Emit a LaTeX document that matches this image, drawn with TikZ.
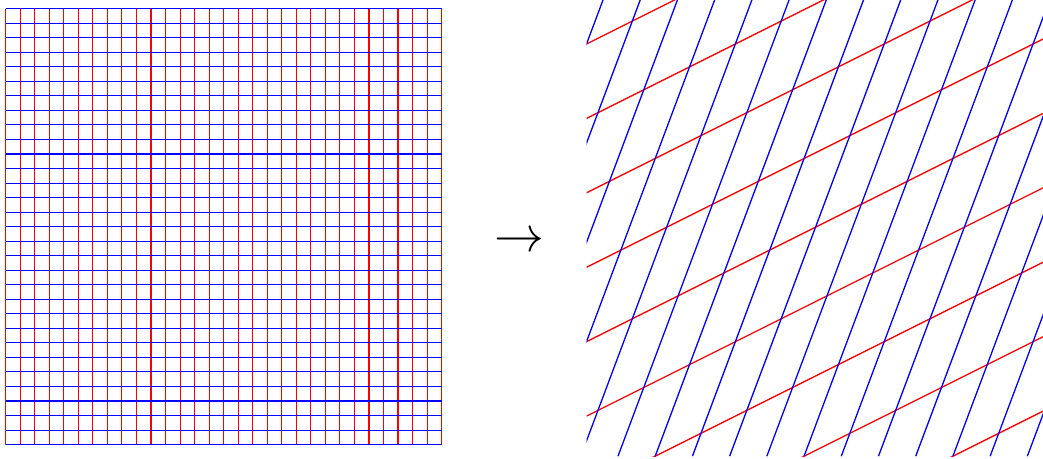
\documentclass[tikz,border=0pt]{standalone}
\usetikzlibrary{calc}
\tikzset{
  gridred/.style={draw=red, line width=0.55pt},
  gridblue/.style={draw=blue, line width=0.55pt},
  mapred/.style={draw=red, line width=0.65pt},
  mapblue/.style={draw=blue, line width=0.65pt},
}
\begin{document}
\begin{tikzpicture}[x=0.5pt,y=-0.5pt]
\useasboundingbox (0,0) rectangle (1043,459);
% left: original square grid, 30 x 30 cells
\begin{scope}[shift={(5.7,8.7)}, x=7.265pt, y=-7.265pt]
  \foreach \i in {0,...,30} {
    \draw[gridred] (\i,0) -- (\i,30);
  }
  \foreach \i in {0,...,30} {
    \draw[gridblue] (0,\i) -- (30,\i);
  }
\end{scope}
% arrow
\node[inner sep=0pt, scale=2.5] (arrow) at (519.8,242.3) {$\rightarrow$};
% right: transformed grid
\begin{scope}[shift={(586.5,456.2)}, x=5.725pt, y=5.725pt]
  \clip (0,0) rectangle (40,40);
  \foreach \c in {-16,-9.5,-3,3.5,10,16.5,23,29.5,36} {
    \draw[mapred] (0,\c) -- (40,\c+20);
  }
  \foreach \m in {-6,...,10} {
    \draw[mapblue] (6+3.25*\m,0) -- (21+3.25*\m,40);
  }
\end{scope}
\end{tikzpicture}
\end{document}
